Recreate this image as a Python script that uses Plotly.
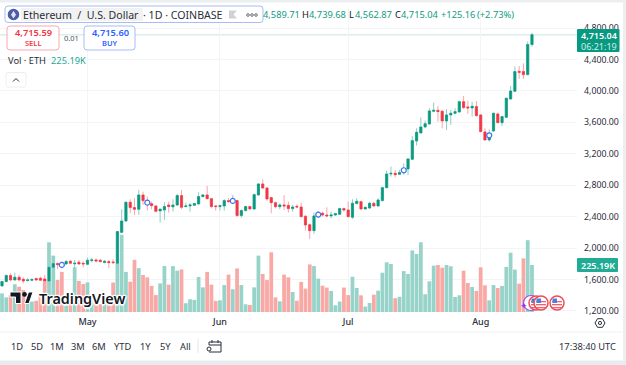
import pandas as pd
import plotly.graph_objects as go

W, H = 626, 365
dates = pd.date_range("2025-04-11", periods=125, freq="D")

opens = [1519,1574,1650,1595,1629,1603,1587,1591,1612,1616,1608,1582,1756,1803,1790,1799,1832,1799,1820,1807,1794,1841,1849,1845,1816,1828,1824,1807,
2200,2345,2583,2515,2494,2676,2604,2565,2536,2473,2485,2549,2525,2548,2668,2528,2536,2545,2562,2655,2676,2629,2536,2528,2536,2604,2591,2604,2413,2477,2528,2498,2676,2816,2765,
2642,2578,2527,2549,2544,2502,2532,2523,2404,2298,2222,2409,2443,2421,2409,2421,2430,2502,2485,2392,2566,2591,2498,2510,2570,2536,2604,
2769,2943,2951,2939,2960,3007,3130,3363,3465,3541,3579,3740,3753,3740,3617,3694,3715,3732,3863,3796,3783,3800,3694,3478,3376,3490,3707,3596,3664,3897,3995,4249,4245,4207,4589.71]
highs = [1582,1667,1680,1688,1659,1629,1616,1616,1625,1637,1659,1786,1900,1820,1828,1849,1849,1849,1849,1828,1879,1879,1871,1862,1849,1849,1858,2216,
2494,2591,2621,2634,2740,2718,2655,2591,2549,2506,2583,2591,2621,2689,2740,2578,2570,2570,2710,2689,2790,2634,2549,2549,2621,2634,2676,2612,2494,2540,2536,2697,2824,2875,2773,
2646,2591,2570,2676,2591,2549,2557,2578,2421,2315,2451,2464,2464,2519,2464,2443,2515,2515,2591,2621,2633,2604,2527,2591,2591,2633,2782,
2986,3037,2994,2994,3079,3143,3427,3524,3664,3622,3779,3850,3808,3757,3766,3757,3779,3876,3935,3876,3863,3872,3702,3524,3511,3723,3723,3681,3914,4063,4309,4317,4351,4627,4739.68]
lows = [1510,1565,1574,1587,1582,1553,1574,1582,1587,1582,1565,1553,1722,1731,1739,1786,1799,1739,1786,1756,1782,1820,1820,1815,1807,1743,1799,1799,
2188,2337,2443,2422,2422,2549,2477,2494,2455,2324,2358,2451,2464,2536,2498,2519,2464,2545,2553,2646,2621,2506,2477,2477,2477,2583,2570,2400,2388,2468,2494,2485,2668,2749,2604,
2443,2506,2493,2485,2451,2464,2506,2392,2222,2116,2180,2392,2400,2400,2379,2413,2421,2464,2392,2371,2557,2485,2493,2498,2527,2527,2591,
2761,2909,2901,2935,2931,2931,3121,3304,3461,3524,3575,3728,3609,3524,3503,3567,3707,3723,3770,3707,3673,3673,3473,3367,3355,3482,3588,3554,3660,3889,3986,4152,4152,4198,4562.87]
closes = [1574,1650,1595,1629,1595,1582,1595,1599,1595,1591,1582,1756,1803,1790,1786,1828,1807,1807,1799,1799,1845,1849,1837,1828,1832,1815,1815,2210,
2345,2583,2515,2494,2676,2604,2595,2540,2468,2494,2528,2528,2548,2668,2519,2536,2549,2566,2655,2676,2629,2528,2528,2540,2604,2591,2605,2413,2477,2528,2498,2680,2816,2765,2625,
2578,2527,2549,2536,2502,2523,2523,2400,2294,2222,2409,2425,2421,2409,2421,2438,2502,2485,2400,2570,2595,2498,2519,2570,2536,2612,2769,
2943,2951,2934,2960,2990,3134,3367,3473,3541,3583,3745,3753,3736,3617,3694,3715,3736,3863,3787,3783,3804,3685,3482,3376,3440,3715,3596,3673,3906,3999,4245,4236,4207,4589.88,4715.04]
volumes_k = [89,70,81,133,121,105,58,50,54,81,150,334,270,153,192,58,81,214,149,134,142,66,45,38,42,74,141,234,
370,192,145,250,210,177,166,125,81,137,220,131,220,198,204,42,61,58,168,118,192,131,53,56,129,179,109,209,129,37,34,118,270,182,153,
286,70,51,179,166,96,54,144,112,228,220,160,126,117,101,32,50,117,81,169,115,80,26,43,83,102,188,238,230,66,73,196,182,295,278,
334,85,147,222,225,212,225,219,72,80,198,139,120,101,214,128,56,129,115,125,216,284,203,136,257,344,225.19]

event_dates = ["2025-04-25","2025-05-15","2025-06-04","2025-06-24","2025-07-14","2025-08-03"]
event_prices = [1786,2578,2600,2426,2990,3435]

price_ticks = [1200,1600,2000,2400,2800,3200,3600,4000,4400,4800]
month_ticks = ["2025-05-01","2025-06-01","2025-07-01","2025-08-01"]
month_labels = ["May","Jun","Jul","Aug"]
range_buttons = ["1D","5D","1M","3M","6M","YTD","1Y","5Y","All"]
range_button_x = [17,37,57,78,99,122,145,165,185]

GREEN, RED = "#089981", "#f23645"
DAY = pd.Timedelta(days=1)

def hx(x): return x / W
def hy(y): return 1 - y / H

vol_colors = ["#97d3c9" if c >= o else "#f9a9a5" for o, c in zip(opens, closes)]
body_hi = [max(o, c) for o, c in zip(opens, closes)]
body_lo = [min(o, c) for o, c in zip(opens, closes)]

fig = go.Figure()
fig.add_bar(x=dates, y=volumes_k, marker=dict(color=vol_colors, line_width=0), yaxis="y", showlegend=False)
fig.add_candlestick(x=dates, open=opens, high=highs, low=lows, close=closes, yaxis="y2", showlegend=False,
    increasing=dict(line=dict(color="#8ccfc3", width=1), fillcolor="#8ccfc3"),
    decreasing=dict(line=dict(color="#f8a6ad", width=1), fillcolor="#f8a6ad"), whiskerwidth=0)
fig.add_candlestick(x=dates, open=opens, high=body_hi, low=body_lo, close=closes, yaxis="y2", showlegend=False,
    increasing=dict(line=dict(color=GREEN, width=0.5), fillcolor=GREEN),
    decreasing=dict(line=dict(color=RED, width=0.5), fillcolor=RED), whiskerwidth=0)
fig.add_scatter(x=event_dates, y=event_prices, mode="markers", yaxis="y2", showlegend=False,
    marker=dict(size=5, color="white", line=dict(color="#3f6fef", width=1.2)))

shapes, anns = [], []
def rect(x0, y0, x1, y1, line=None, fill="rgba(0,0,0,0)", lw=1, r=0):
    if r:
        path = (f"M{hx(x0+r)},{hy(y0)} L{hx(x1-r)},{hy(y0)} Q{hx(x1)},{hy(y0)} {hx(x1)},{hy(y0+r)} "
                f"L{hx(x1)},{hy(y1-r)} Q{hx(x1)},{hy(y1)} {hx(x1-r)},{hy(y1)} L{hx(x0+r)},{hy(y1)} "
                f"Q{hx(x0)},{hy(y1)} {hx(x0)},{hy(y1-r)} L{hx(x0)},{hy(y0+r)} Q{hx(x0)},{hy(y0)} {hx(x0+r)},{hy(y0)} Z")
        shapes.append(dict(type="path", xref="paper", yref="paper", path=path, fillcolor=fill,
                           line=dict(color=line or "rgba(0,0,0,0)", width=lw), layer="above"))
    else:
        shapes.append(dict(type="rect", xref="paper", yref="paper", x0=hx(x0), x1=hx(x1), y0=hy(y0), y1=hy(y1),
                           fillcolor=fill, line=dict(color=line or "rgba(0,0,0,0)", width=lw if line else 0), layer="above"))
def circle(cx, cy, r, fill="rgba(0,0,0,0)", line=None, lw=1):
    rect_d = dict(type="circle", xref="paper", yref="paper", x0=hx(cx-r), x1=hx(cx+r), y0=hy(cy-r), y1=hy(cy+r),
                  fillcolor=fill, line=dict(color=line or "rgba(0,0,0,0)", width=lw if line else 0), layer="above")
    shapes.append(rect_d)
def poly(points, fill="rgba(0,0,0,0)", line=None, lw=1, close=True):
    d = "M" + " L".join(f"{hx(x)},{hy(y)}" for x, y in points) + (" Z" if close else "")
    shapes.append(dict(type="path", xref="paper", yref="paper", path=d, fillcolor=fill,
                       line=dict(color=line or "rgba(0,0,0,0)", width=lw if line else 0), layer="above"))
FONT = "Noto Sans"
def text(x, y, s, size=9.3, color="#131722", anchor="left", weight=400, **kw):
    anns.append(dict(xref="paper", yref="paper", x=hx(x), y=hy(y), text=s, showarrow=False, xanchor=anchor, yanchor="middle",
                     xshift=0, borderpad=0, borderwidth=0, font=dict(size=size, color=color, family=FONT, weight=weight), **kw))

# price line
shapes.append(dict(type="line", xref="paper", yref="y2", x0=0, x1=577/W, y0=closes[-1], y1=closes[-1],
                   line=dict(color="#d9efe9", width=1.5), layer="below"))
# frame
rect(0, 0, W, 2.5, fill="#eceef0")
rect(623, 0, W, H, fill="#eceef0")
rect(0, 360.5, W, H, fill="#e9ebee")
rect(0, 331.5, 623, 332.5, fill="#f0f1f3")
# header
rect(5, 6, 263, 22.5, line="#a8bdf6", fill="white", lw=1, r=3)
rect(21, 8, 143, 21, fill="#f2f2f3")
circle(13.5, 14.5, 5.8, fill="#4a5da6")
poly([(13.5, 10.8), (16, 14.8), (13.5, 18.4), (11, 14.8)], fill="#dfe3f4")
text(23, 15, "Ethereum  /  U.S. Dollar", size=10.6, color="#2a2e39")
text(143, 15, "· 1D · COINBASE", size=10.6, color="#2a2e39")
poly([(229, 10.5), (237, 10.5), (233.5, 14.5), (237, 18.5), (229, 18.5)], fill="#cfd1d5")
for cx in (248, 252, 256):
    circle(cx, 15, 1.3, line="#6a6d78", lw=1)
teal = "#0e9b83"
text(263, 15, "4,589.71", color=teal)
text(302, 15, "H")
text(309, 15, "4,739.68", color=teal)
text(349, 15, "L")
text(355, 15, "4,562.87", color=teal)
text(395, 15, "C")
text(401, 15, "4,715.04", color=teal)
text(441, 15, "+125.16", color=teal)
text(477, 15, "(+2.73%)", color=teal)
# buy / sell
rect(7, 26, 59, 50, line="#f8a9b0", fill="white", r=3)
text(33, 33, "4,715.59", size=9.3, color=RED, anchor="center", weight=600)
text(33, 43, "SELL", size=7.5, color=RED, anchor="center", weight=600)
text(71, 38, "0.01", size=7.5, color="#50535e", anchor="center")
rect(84, 26, 135, 50, line="#a8bdf6", fill="white", r=3)
text(110, 33, "4,715.60", size=9.3, color="#2962ff", anchor="center", weight=600)
text(110, 43, "BUY", size=7.5, color="#2962ff", anchor="center", weight=600)
text(8, 61, "Vol · ETH", size=9.3, color="#2a2e39")
text(51, 61, "225.19K", size=9.3, color="#22ab94")
rect(6, 72.5, 26, 87, line="#eceef0", fill="white", r=2)
poly([(13, 81.5), (16, 78.5), (19, 81.5)], line="#2a2e39", lw=1, close=False)
# right labels
rect(577, 29, 619.5, 52, fill=GREEN, r=1)
text(598.5, 35.5, "4,715.04", size=9, color="white", anchor="center", weight=600)
text(598.5, 46, "06:21:19", size=9, color="#d5eee9", anchor="center")
rect(577, 258, 618, 272, fill="#22ab94", r=1)
text(597.5, 265, "225.19K", size=9, color="white", anchor="center", weight=600)
# logo
poly([(10, 292), (21, 292), (21, 303.5), (15.5, 303.5), (15.5, 297), (10, 297)], fill="#131722", line="white", lw=1)
circle(24.5, 294.4, 2.4, fill="#131722")
poly([(24.5, 303.5), (28.5, 292), (33, 292), (29, 303.5)], fill="#131722", line="white", lw=1)
halo = "1.5px 0 1px #fff,-1.5px 0 1px #fff,0 1.5px 1px #fff,0 -1.5px 1px #fff,1px 1px 1px #fff,-1px -1px 1px #fff,1px -1px 1px #fff,-1px 1px 1px #fff"
anns.append(dict(xref="paper", yref="paper", x=hx(36.5), y=hy(298), text="TradingView", showarrow=False, xanchor="left", yanchor="middle",
                 font=dict(size=14.4, color="#131722", family=FONT, weight=600, shadow=halo)))
# flags
def flag(cx, cy=303):
    circle(cx, cy, 7, fill="white", line="#f04a58", lw=1.5)
    for dy in (-2, 1, 4):
        rect(cx-5, cy+dy, cx+5, cy+dy+1.3, fill="#f2606b")
    rect(cx-4.5, cy-4.5, cx, cy, fill="#4c7fe0")
circle(531, 303, 7.5, fill="white", line="#9c4fe8", lw=1.2)
flag(536); flag(541); flag(557)
text(524, 305, "✦", size=9, color="#7a3ff2", anchor="center")
# bottom bar
for s, x in zip(range_buttons, range_button_x):
    text(x, 346, s, size=9.3, color="#2a2e39", anchor="center")
rect(197.5, 339, 198.5, 353, fill="#e4e6ea")
poly([(209, 352), (221, 352), (221, 342), (209, 342), (209, 345), (221, 345)], line="#2a2e39", lw=1, close=False)
poly([(212, 340), (212, 343)], line="#2a2e39", lw=1, close=False)
poly([(218, 340), (218, 343)], line="#2a2e39", lw=1, close=False)
circle(209, 349, 2, fill="white", line="#2a2e39", lw=1)
text(616, 346, "17:38:40 UTC", size=9.3, color="#2a2e39", anchor="right")
poly([(595, 323), (597.5, 318.7), (602.5, 318.7), (605, 323), (602.5, 327.3), (597.5, 327.3)], line="#2a2e39", lw=1)
circle(600, 323, 1.6, line="#2a2e39", lw=1)

PLOT_R, PLOT_T, PLOT_B = 577, 8, 312
PX_PER_DAY = 4.274
PX_PER_PRICE = 31.44 / 400
VOL_K_PER_PX = 4.79
x0 = dates[0] - DAY * (2 / PX_PER_DAY)
x1 = dates[0] + DAY * ((PLOT_R - 2) / PX_PER_DAY)
p_top = 4800 + (28 - PLOT_T) / PX_PER_PRICE
p_bot = 4800 - (PLOT_B - 28) / PX_PER_PRICE

fig.update_layout(
    width=W, height=H, margin=dict(l=0, r=0, t=0, b=0, pad=0, autoexpand=False), autosize=False,
    paper_bgcolor="white", plot_bgcolor="white", bargap=0.12, boxgap=0.28,
    font=dict(family=FONT, size=10, color="#2a2e39"), showlegend=False, dragmode=False,
    xaxis=dict(domain=[0, PLOT_R / W], range=[x0, x1], type="date", rangeslider=dict(visible=False), automargin=False,
               tickvals=month_ticks, ticktext=month_labels, showgrid=True, gridcolor="#f3f4f6", gridwidth=1,
               tickfont=dict(size=9, color="#2a2e39", weight=500), ticks="", ticklabelstandoff=3, showline=False, zeroline=False),
    yaxis=dict(domain=[hy(PLOT_B), hy(PLOT_T)], range=[0, (PLOT_B - PLOT_T) * VOL_K_PER_PX], showticklabels=False,
               showgrid=False, zeroline=False, showline=False, ticks=""),
    yaxis2=dict(domain=[hy(PLOT_B), hy(PLOT_T)], overlaying="y", side="right", range=[p_bot, p_top],
                tickvals=price_ticks, tickformat=",.2f", showgrid=True, gridcolor="#f3f4f6", gridwidth=1,
                tickfont=dict(size=8.8, color="#2a2e39"), ticks="", ticklabelstandoff=6, zeroline=False, showline=False),
    shapes=shapes, annotations=anns,
)
fig.write_html("out.html", config=dict(displayModeBar=False),
               post_script="document.body.style.margin='0';document.documentElement.style.overflow='hidden';")
